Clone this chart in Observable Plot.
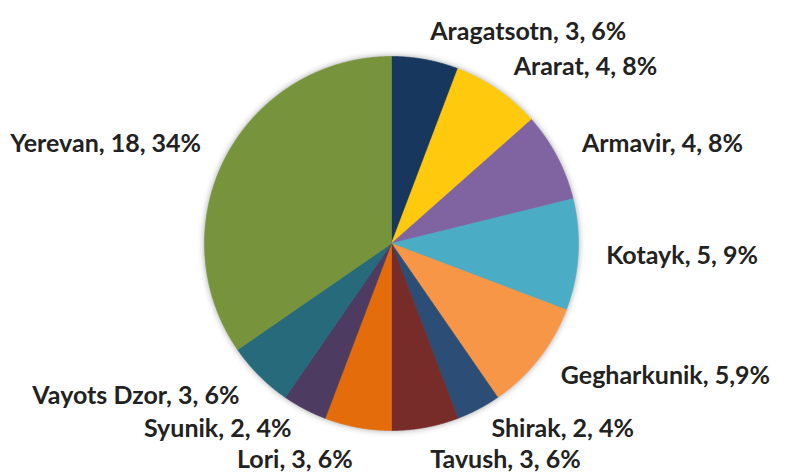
<!DOCTYPE html>
<html>
<head>
<meta charset="utf-8">
<script src="https://cdn.jsdelivr.net/npm/d3@7"></script>
<script src="https://cdn.jsdelivr.net/npm/@observablehq/plot@0.6"></script>
<style>
  html, body { margin: 0; padding: 0; background: #ffffff; }
  #chart { width: 790px; height: 472px; }
</style>
</head>
<body>
<div id="chart"></div>
<script>
// ---- data ----
const regions = ["Aragatsotn", "Ararat", "Armavir", "Kotayk", "Gegharkunik", "Shirak", "Tavush", "Lori", "Syunik", "Vayots Dzor", "Yerevan"];
const counts = [3, 4, 4, 5, 5, 2, 3, 3, 2, 3, 18];
const labelTexts = ["Aragatsotn, 3, 6%", "Ararat, 4, 8%", "Armavir, 4, 8%", "Kotayk, 5, 9%", "Gegharkunik, 5,9%", "Shirak, 2, 4%", "Tavush, 3, 6%", "Lori, 3, 6%", "Syunik, 2, 4%", "Vayots Dzor, 3, 6%", "Yerevan, 18, 34%"];
const colors = ["#17375e", "#ffc90e", "#8064a2", "#4bacc6", "#f79646", "#2c4d75", "#772c2a", "#e46c0a", "#4d3b62", "#276a7c", "#77933c"];

// ---- layout ----
const W = 790, H = 472;
const cx = 391, cy = 243, R = 187;   // pie centre and radius in pixels
const labelRadius = 1.15;            // label anchor distance (pie radius = 1)
const minGap = 31 / R;               // minimum vertical spacing between labels on a side

// pie geometry (unit circle, clockwise from 12 o'clock)
const arcs = d3.pie().sort(null).value(d => d)(counts);
const slicePts = [];
arcs.forEach((a, i) => {
  const name = regions[i];
  slicePts.push({region: name, x: 0, y: 0});
  const n = Math.max(2, Math.ceil((a.endAngle - a.startAngle) / (Math.PI / 360)));
  for (let k = 0; k <= n; k++) {
    const t = a.startAngle + (a.endAngle - a.startAngle) * k / n;
    slicePts.push({region: name, x: Math.sin(t), y: Math.cos(t)});
  }
  slicePts.push({region: name, x: 0, y: 0});
});

const labels = arcs.map((a, i) => {
  const m = (a.startAngle + a.endAngle) / 2;
  return {text: labelTexts[i], x: labelRadius * Math.sin(m), y: labelRadius * Math.cos(m), right: Math.sin(m) >= 0};
});

// simple collision relaxation: push labels on each side apart vertically
for (const side of [true, false]) {
  const group = labels.filter(d => d.right === side);
  for (let it = 0; it < 60; it++) {
    group.sort((a, b) => b.y - a.y);
    for (let j = 1; j < group.length; j++) {
      const gap = group[j - 1].y - group[j].y;
      if (gap < minGap) {
        const s = (minGap - gap) / 2;
        group[j - 1].y += s;
        group[j].y -= s;
      }
    }
  }
}

const font = {fill: "#222222", fontSize: 25, fontWeight: "bold", fontFamily: "Lato, 'Open Sans', sans-serif"};

const chart = Plot.plot({
  width: W,
  height: H,
  margin: 0,
  x: {domain: [-cx / R, (W - cx) / R], axis: null},
  y: {domain: [-(H - cy) / R, cy / R], axis: null},
  color: {domain: regions, range: colors},
  style: {background: "#ffffff"},
  marks: [
    Plot.line(slicePts, {x: "x", y: "y", z: "region", fill: "region", stroke: "region", strokeWidth: 0.6, className: "slices"}),
    Plot.text(labels.filter(d => d.right), {x: "x", y: "y", text: "text", textAnchor: "start", ...font}),
    Plot.text(labels.filter(d => !d.right), {x: "x", y: "y", text: "text", textAnchor: "end", ...font})
  ]
});
const g = chart.querySelector(".slices");
if (g) g.style.filter = "drop-shadow(0px 0px 3px rgba(0,0,0,0.35))";
document.getElementById("chart").appendChild(chart);
</script>
</body>
</html>
